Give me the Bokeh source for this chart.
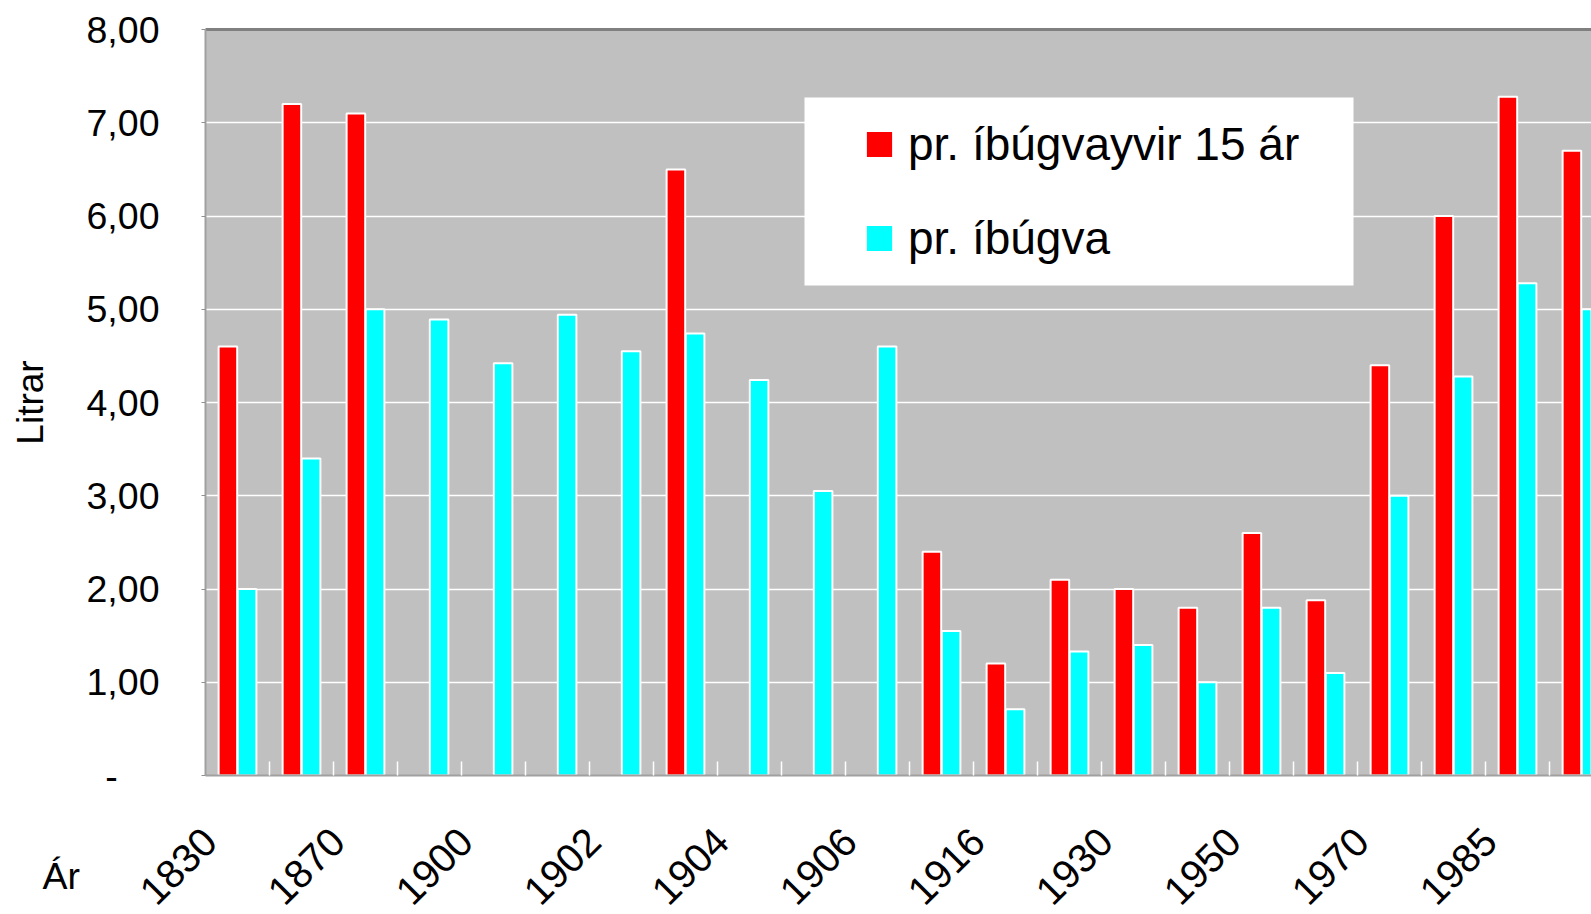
import math
from bokeh.plotting import figure
from bokeh.models import (Range1d, LinearAxis, FixedTicker, Grid, Legend, LegendItem,
                          Label, BoxAnnotation, ColumnDataSource)
from bokeh.transform import dodge
from bokeh.embed import file_html
from bokeh.resources import INLINE

# ---------------- data ----------------
group_index = list(range(1, 23))
labelled_groups = [1, 3, 5, 7, 9, 11, 13, 15, 17, 19, 21]
tick_labels = ["1830", "1870", "1900", "1902", "1904", "1906", "1916", "1930", "1950", "1970", "1985"]

per_inhabitant_over15 = [4.6, 7.2, 7.1, None, None, None, None, 6.5, None, None, None,
                         2.4, 1.2, 2.1, 2.0, 1.8, 2.6, 1.88, 4.4, 6.0, 7.28, 6.7]
per_inhabitant = [2.0, 3.4, 5.0, 4.89, 4.42, 4.94, 4.55, 4.74, 4.24, 3.05, 4.6,
                  1.55, 0.71, 1.33, 1.4, 1.0, 1.8, 1.1, 3.0, 4.28, 5.28, 5.0]

series_names = ["pr. íbúgvayvir 15 ár", "pr. íbúgva"]
series_colors = ["#FF0000", "#00FFFF"]

y_ticks = [0, 1, 2, 3, 4, 5, 6, 7, 8]
y_tick_labels = ["-", "1,00", "2,00", "3,00", "4,00", "5,00", "6,00", "7,00", "8,00"]
y_title = "Litrar"
x_title = "Ár"

# ---------------- style / layout ----------------
FONT = "Liberation Sans"
W, H = 1591, 914
PX_X = 64.0          # pixels per category
PX_Y = 93.25         # pixels per litre
LEFT, TOP, BOTTOM = 205, 29, 775   # plot-area edges in canvas pixels
LABEL_SHIFT = 0.438  # rotated category labels sit left of their group (as in the original)
BAR_W = 0.29
DODGE = 0.15

x_start = 0.5 - LEFT / PX_X
x_end = 0.5 + (W - LEFT) / PX_X
y_top = max(y_ticks) + TOP / PX_Y
y_bottom = -(H - BOTTOM) / PX_Y

p = figure(width=W, height=H,
           x_range=Range1d(x_start, x_end), y_range=Range1d(y_bottom, y_top),
           output_backend="svg", toolbar_location=None,
           x_axis_location=None, y_axis_location=None,
           min_border_left=0, min_border_right=0, min_border_top=0, min_border_bottom=0,
           background_fill_color="white", border_fill_color="white",
           outline_line_color=None)
p.title.visible = False
p.xgrid.visible = False
p.ygrid.visible = False

# grey plot area
p.add_layout(BoxAnnotation(left=0.5, bottom=0, top=max(y_ticks),
                           fill_color="#C0C0C0", fill_alpha=1.0, line_color=None,
                           level="image"))

# horizontal grid lines
p.add_layout(Grid(dimension=1, ticker=FixedTicker(ticks=y_ticks[1:-1]),
                  grid_line_color="white", grid_line_width=1.5))

# y axis
yax = LinearAxis(fixed_location=0.5, bounds=(0, max(y_ticks)),
                 ticker=FixedTicker(ticks=y_ticks))
labels_y = {t: lab for t, lab in zip(y_ticks, y_tick_labels)}
labels_y[0] = y_tick_labels[0] + "\u00a0" * 4
yax.major_label_overrides = labels_y
yax.major_label_text_font = FONT
yax.major_label_text_font_size = "37.5px"
yax.major_label_text_color = "black"
yax.major_tick_out = 4
yax.major_tick_in = 0
yax.major_tick_line_color = "#909090"
yax.minor_tick_line_color = None
yax.axis_line_color = "#A0A0A0"
yax.axis_line_width = 2
yax.major_label_standoff = 42
yax.axis_label = y_title
yax.axis_label_text_font = FONT
yax.axis_label_text_font_size = "37px"
yax.axis_label_text_font_style = "normal"
yax.axis_label_text_color = "black"
yax.axis_label_standoff = 33
p.add_layout(yax, "left")

# x axis
label_pos = [round(g - LABEL_SHIFT, 4) for g in labelled_groups]
boundaries = [g + 0.5 for g in group_index[:-1]]
xax = LinearAxis(fixed_location=0, bounds=(0.5, x_end),
                 ticker=FixedTicker(ticks=label_pos, minor_ticks=boundaries))
xax.major_label_overrides = {pos: lab for pos, lab in zip(label_pos, tick_labels)}
xax.major_label_orientation = math.pi / 4
xax.major_label_text_font = FONT
xax.major_label_text_font_size = "40px"
xax.major_label_text_color = "black"
xax.major_label_standoff = 59
xax.major_tick_in = 0
xax.major_tick_out = 0
xax.minor_tick_in = 14
xax.minor_tick_out = 0
xax.minor_tick_line_color = "white"
xax.minor_tick_line_width = 1.5
xax.axis_line_color = "#A0A0A0"
xax.axis_line_width = 2
p.add_layout(xax, "below")

# top edge of the plot area
top_edge = LinearAxis(fixed_location=max(y_ticks), bounds=(0.5, x_end),
                      ticker=FixedTicker(ticks=[]), major_label_text_font_size="0px",
                      major_tick_line_color=None, minor_tick_line_color=None,
                      axis_line_color="#808080", axis_line_width=3)
p.add_layout(top_edge, "above")

# bars
def series_source(values):
    xs = [g for g, v in zip(group_index, values) if v is not None]
    ys = [v for v in values if v is not None]
    return ColumnDataSource(dict(x=xs, top=ys))

r1 = p.vbar(x=dodge("x", -DODGE, range=p.x_range), top="top", width=BAR_W,
            source=series_source(per_inhabitant_over15),
            fill_color=series_colors[0], line_color="white", line_width=2)
r2 = p.vbar(x=dodge("x", DODGE, range=p.x_range), top="top", width=BAR_W,
            source=series_source(per_inhabitant),
            fill_color=series_colors[1], line_color="white", line_width=2)

# legend background and legend
p.add_layout(BoxAnnotation(left=804, right=1353, top=H - 97, bottom=H - 285,
                           left_units="screen", right_units="screen",
                           top_units="screen", bottom_units="screen",
                           fill_color="white", fill_alpha=1.0, line_color=None))
legend = Legend(items=[LegendItem(label=series_names[0], renderers=[r1]),
                       LegendItem(label=series_names[1], renderers=[r2])],
                location=(862, 649), padding=0, margin=0, spacing=40,
                glyph_width=34, glyph_height=34, label_standoff=12,
                label_text_font=FONT, label_text_font_size="46px",
                label_text_color="black",
                background_fill_alpha=0, border_line_color=None)
p.add_layout(legend)

p.add_layout(Label(x=42, y=H - 875, x_units="screen", y_units="screen", text=x_title,
                   text_font=FONT, text_font_size="37.5px", text_color="black",
                   text_baseline="alphabetic"))

open("out.html", "w").write(file_html(p, INLINE))
